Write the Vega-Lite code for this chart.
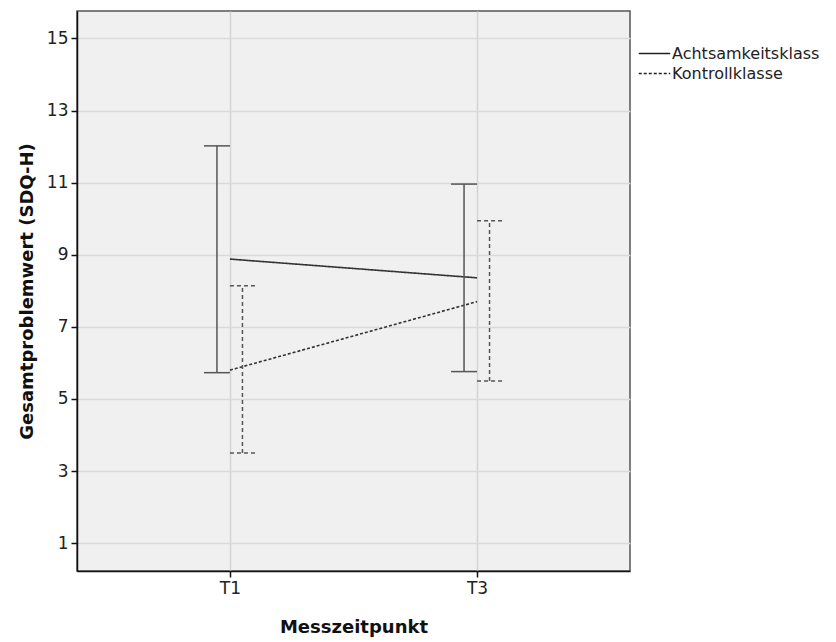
{
  "$schema": "https://vega.github.io/schema/vega-lite/v6.json",
  "width": 553,
  "height": 560,
  "autosize": {"type": "none"},
  "padding": {"left": 77, "top": 11, "right": 206, "bottom": 71},
  "background": "white",
  "config": {
    "font": "DejaVu Sans",
    "view": {"fill": "#f0f0f0", "stroke": "#555555", "strokeWidth": 1.5},
    "axis": {
      "domainColor": "#111111",
      "domainWidth": 1.5,
      "tickColor": "#111111",
      "tickWidth": 1.5,
      "tickSize": 6,
      "labelFontSize": 17,
      "labelColor": "#222222",
      "titleFontSize": 18,
      "titleFontWeight": "bold",
      "titleColor": "#111111"
    }
  },
  "data": {
    "values": [
      {"group": "Achtsamkeitsklass", "time": "T1", "mean": 8.88, "lo": 5.73, "hi": 12.02},
      {"group": "Achtsamkeitsklass", "time": "T3", "mean": 8.36, "lo": 5.76, "hi": 10.96},
      {"group": "Kontrollklasse", "time": "T1", "mean": 5.8, "lo": 3.5, "hi": 8.14},
      {"group": "Kontrollklasse", "time": "T3", "mean": 7.7, "lo": 5.5, "hi": 9.94}
    ]
  },
  "encoding": {
    "x": {
      "field": "time",
      "type": "nominal",
      "sort": ["T1", "T3"],
      "scale": {"type": "point", "padding": 0.619},
      "axis": {
        "title": "Messzeitpunkt",
        "labelAngle": 0,
        "grid": true,
        "gridColor": "#d4d4d4",
        "gridWidth": 1.5,
        "labelPadding": 3,
        "titlePadding": 22
      }
    }
  },
  "layer": [
    {
      "mark": {"type": "line", "color": "#333333", "strokeWidth": 1.6},
      "encoding": {
        "y": {
          "field": "mean",
          "type": "quantitative",
          "scale": {"domain": [0.23, 15.76], "nice": false, "zero": false},
          "axis": {
            "title": "Gesamtproblemwert (SDQ-H)",
            "values": [1, 2, 3, 4, 5, 6, 7, 8, 9, 10, 11, 12, 13, 14, 15],
            "grid": true,
            "gridColor": "#d9d9d9",
            "gridWidth": 1.5,
            "tickOpacity": {"condition": {"test": "datum.value % 2 == 1", "value": 1}, "value": 0},
            "labelExpr": "datum.value % 2 == 1 ? datum.label : ''",
            "labelPadding": 3,
            "titlePadding": 10
          }
        },
        "strokeDash": {
          "field": "group",
          "type": "nominal",
          "scale": {"domain": ["Achtsamkeitsklass", "Kontrollklasse"], "range": [[1, 0], [3, 2]]},
          "legend": {
            "title": null,
            "orient": "none",
            "legendX": 566,
            "legendY": 31,
            "symbolType": "M-1.5,0H1.5",
            "symbolSize": 441,
            "symbolStrokeWidth": 1.5,
            "symbolStrokeColor": "#222222",
            "labelFontSize": 16,
            "labelColor": "#222222",
            "labelOffset": 6,
            "rowPadding": 0
          }
        }
      }
    },
    {
      "transform": [{"filter": "datum.group == 'Achtsamkeitsklass'"}],
      "mark": {"type": "rule", "color": "#555555", "strokeWidth": 1.5, "xOffset": -13},
      "encoding": {"y": {"field": "lo", "type": "quantitative"}, "y2": {"field": "hi"}}
    },
    {
      "transform": [{"filter": "datum.group == 'Achtsamkeitsklass'"}],
      "mark": {"type": "rule", "color": "#555555", "strokeWidth": 1.5, "xOffset": -26, "x2Offset": 0},
      "encoding": {"x2": {"field": "time"}, "y": {"field": "hi", "type": "quantitative"}}
    },
    {
      "transform": [{"filter": "datum.group == 'Achtsamkeitsklass'"}],
      "mark": {"type": "rule", "color": "#555555", "strokeWidth": 1.5, "xOffset": -26, "x2Offset": 0},
      "encoding": {"x2": {"field": "time"}, "y": {"field": "lo", "type": "quantitative"}}
    },
    {
      "transform": [{"filter": "datum.group == 'Kontrollklasse'"}],
      "mark": {"type": "rule", "color": "#555555", "strokeWidth": 1.5, "xOffset": 12.5, "strokeDash": [4, 3]},
      "encoding": {"y": {"field": "lo", "type": "quantitative"}, "y2": {"field": "hi"}}
    },
    {
      "transform": [{"filter": "datum.group == 'Kontrollklasse'"}],
      "mark": {"type": "rule", "color": "#555555", "strokeWidth": 1.5, "xOffset": 0, "x2Offset": 25, "strokeDash": [4, 3]},
      "encoding": {"x2": {"field": "time"}, "y": {"field": "hi", "type": "quantitative"}}
    },
    {
      "transform": [{"filter": "datum.group == 'Kontrollklasse'"}],
      "mark": {"type": "rule", "color": "#555555", "strokeWidth": 1.5, "xOffset": 0, "x2Offset": 25, "strokeDash": [4, 3]},
      "encoding": {"x2": {"field": "time"}, "y": {"field": "lo", "type": "quantitative"}}
    }
  ]
}
